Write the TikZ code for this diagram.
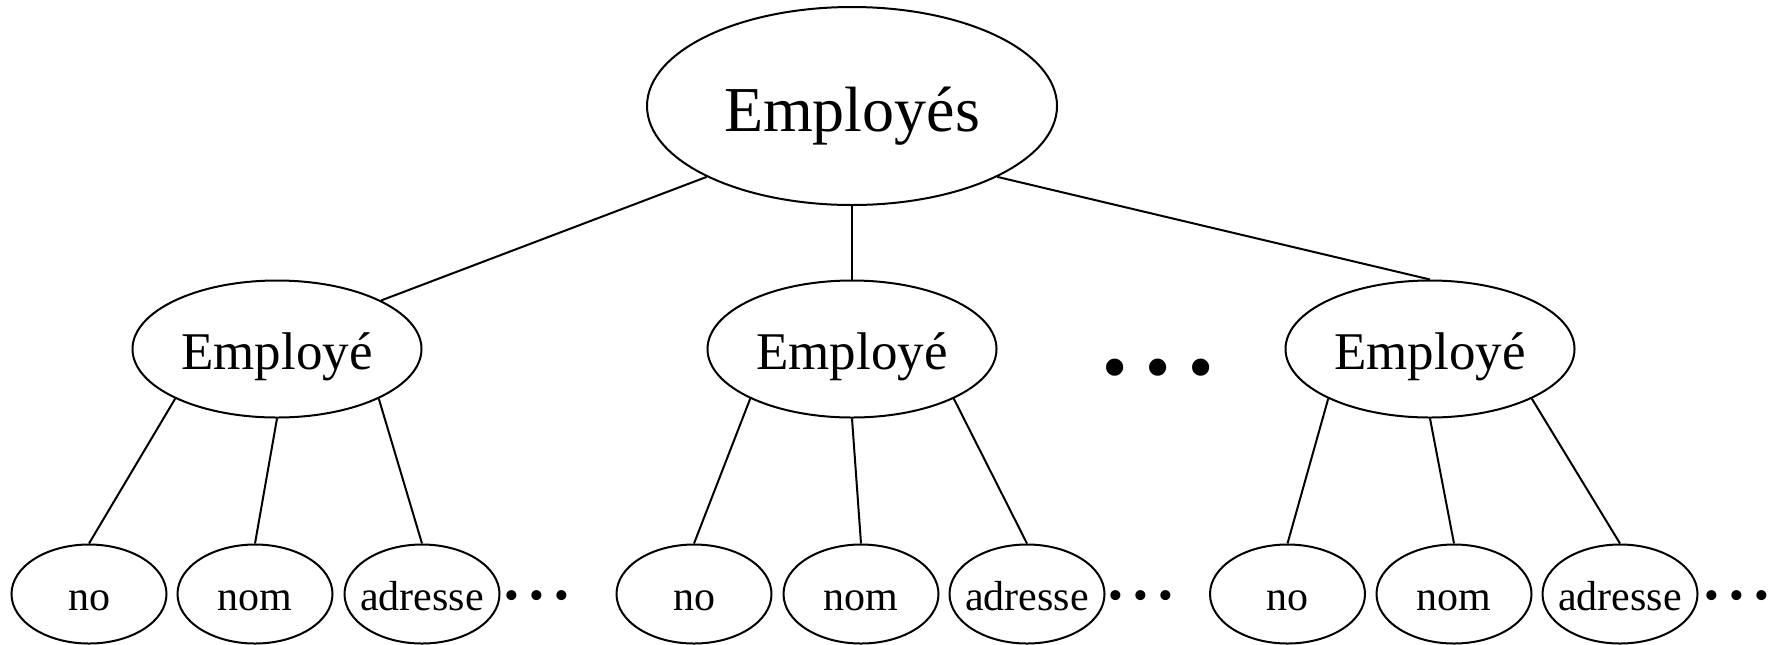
\documentclass[tikz,border=0pt]{standalone}
\usepackage{fontspec}
\setmainfont{Liberation Serif}
\usetikzlibrary{shapes.geometric}

\begin{document}
\begin{tikzpicture}[x = 0.5pt, y = -0.5pt, % one unit = one pixel, y down
                line width = 1pt % line style
            ]

            \tikzstyle{every node}=[draw = black, ellipse, inner sep = 0pt,
            text depth = 0pt]
            \tikzstyle{grp}=[minimum width = 205pt, minimum height = 99pt,
            text height = 25pt, font = \fontsize{32}{38}\selectfont]
            \tikzstyle{emp}=[minimum width = 144.5pt, minimum height = 68.5pt,
            text height = 20.7pt, font = \fontsize{26.5}{32}\selectfont]
            \tikzstyle{attr}=[minimum width = 77.5pt, minimum height = 49.5pt,
            text height = 16.4pt, inner xsep = -5pt,
            font = \fontsize{21}{25}\selectfont]
            \tikzstyle{dots}=[draw = none, text depth = {},
            font = \fontsize{21}{25}\selectfont]

            \useasboundingbox (0,0) rectangle (1781,644);

            \node[grp] (emps) at (852,106) {Employés};

            \node[emp] (e1) at (277,349) {Employé}; \node[emp] (e2) at
            (852,349) {Employé}; \node[emp] (e3) at (1430,349) {Employé};
            \node[dots, font = \fontsize{36}{40}\selectfont] (d0) at
            (1158,375) {• • •};

            \node[attr] (no1) at (89,594) {no}; \node[attr] (nom1) at
            (255,594) {nom}; \node[attr] (adr1) at (422,594) {adresse};
            \node[dots] (d1) at (537,600) {• • •};

            \node[attr] (no2) at (694,594) {no}; \node[attr] (nom2) at
            (861,594) {nom}; \node[attr] (adr2) at (1027,594) {adresse};
            \node[dots] (d2) at (1141,600) {• • •};

            \node[attr] (no3) at (1287.5,594) {no}; \node[attr] (nom3) at
            (1454,594) {nom}; \node[attr] (adr3) at (1620,594) {adresse};
            \node[dots] (d3) at (1737,600) {• • •};

            \path (emps.-154) edge (e1.25); \path (emps.south) edge (e2.north);
            \path (emps.-26) edge (e3.north);

            \path (e1.-154) edge (no1.north); \path (e1.south) edge
            (nom1.north); \path (e1.-26) edge (adr1.north);
            \path (e2.-154) edge (no2.north); \path (e2.south) edge
            (nom2.north); \path (e2.-26) edge (adr2.north);
            \path (e3.-154) edge (no3.north); \path (e3.south) edge
            (nom3.north); \path (e3.-26) edge (adr3.north);
\end{tikzpicture}
\end{document}
